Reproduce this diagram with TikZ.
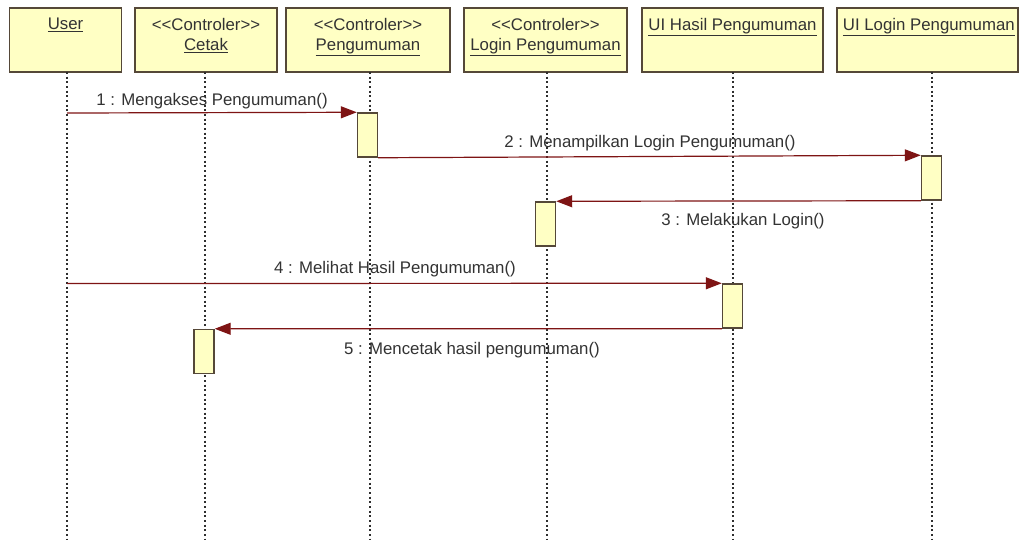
\documentclass[tikz,border=0pt]{standalone}
\usepackage{fontspec}
\setmainfont{Liberation Sans}
\usetikzlibrary{arrows.meta}
\definecolor{boxfill}{HTML}{FFFFC4}
\definecolor{boxline}{HTML}{554838}
\definecolor{msgline}{HTML}{7E1414}
\definecolor{lifeline}{HTML}{2E2E2E}
\definecolor{txt}{HTML}{333333}
% stereotype guillemets typed as two separate angle brackets
\newcommand{\stlt}{<\kern0pt<}
\newcommand{\stgt}{>\kern0pt>}
\begin{document}
\begin{tikzpicture}[x=0.75pt,y=-0.75pt,
  every node/.style={font=\fontsize{12.6}{15}\selectfont, text=txt},
  headbox/.style={draw=boxline, fill=boxfill, line width=1.4pt, inner sep=0pt},
  headtext/.style={anchor=north, align=center, inner sep=0pt},
  actbox/.style={draw=boxline, fill=boxfill, line width=1.1pt, minimum width=15pt, minimum height=33pt, inner sep=0pt},
  life/.style={draw=lifeline, line width=0.8pt, dash pattern=on 1.5pt off 2pt},
  msg/.style={draw=msgline, line width=0.9pt, -{Triangle[length=12pt,width=9pt]}},
  msglabel/.style={inner sep=0pt}]
\useasboundingbox (0,0) rectangle (1020,540);
\fill[white] (0,0) rectangle (1020,540);

% object headers
\node[headbox, minimum width=84pt, minimum height=48pt] (user) at (65.5,40) {};
\node[headbox, minimum width=106pt, minimum height=48pt] (cetak) at (206,40) {};
\node[headbox, minimum width=123pt, minimum height=48pt] (peng) at (368,40) {};
\node[headbox, minimum width=122pt, minimum height=48pt] (login) at (545.5,40) {};
\node[headbox, minimum width=136pt, minimum height=48pt] (uihasil) at (732.5,40) {};
\node[headbox, minimum width=136pt, minimum height=48pt] (uilogin) at (927.5,40) {};

\node[headtext] (tuser) at ([yshift=-8pt]user.north) {\underline{User}};
\node[headtext] (tcetak) at ([yshift=-8pt]cetak.north) {\stlt Controler\stgt\\\underline{Cetak}};
\node[headtext] (tpeng) at ([yshift=-8pt]peng.north) {\stlt Controler\stgt\\\underline{Pengumuman}};
\node[headtext] (tlogin) at ([yshift=-8pt]login.north) {\stlt Controler\stgt\\\underline{Login Pengumuman}};
\node[headtext] (tuihasil) at ([yshift=-8pt]uihasil.north) {\underline{UI Hasil Pengumuman}};
\node[headtext] (tuilogin) at ([yshift=-8pt,xshift=1pt]uilogin.north) {\underline{UI Login Pengumuman}};

% lifelines
\foreach \o/\x in {user/67,cetak/205,peng/370,login/547,uihasil/733,uilogin/932}{
  \coordinate (\o-top) at (\x,72);
  \coordinate (\o-end) at (\x,540);
  \draw[life] (\o-top) -- (\o-end);
}

% activation bars
\node[actbox] (a1) at (367.5,135) {};
\node[actbox] (a2) at (931.5,178) {};
\node[actbox] (a3) at (545.5,224) {};
\node[actbox] (a4) at (732.5,306) {};
\node[actbox] (a5) at (204,351.5) {};

% messages
\coordinate (m1) at (67,113);
\coordinate (m4) at (67,283.5);
\draw[msg] (m1) -- (a1.north west);
\draw[msg] (a1.south east) -- (a2.north west);
\draw[msg] (a2.south west) -- (a3.north east);
\draw[msg] (m4) -- (a4.north west);
\draw[msg] (a4.south west) -- (a5.north east);

\node[msglabel] (l1) at (212,101) {1 : Mengakses Pengumuman()};
\node[msglabel] (l2) at (650,143) {2 : Menampilkan Login Pengumuman()};
\node[msglabel] (l3) at (743,221) {3 : Melakukan Login()};
\node[msglabel] (l4) at (395,269) {4 : Melihat Hasil Pengumuman()};
\node[msglabel] (l5) at (472,350) {5 : Mencetak hasil pengumuman()};
\end{tikzpicture}
\end{document}
